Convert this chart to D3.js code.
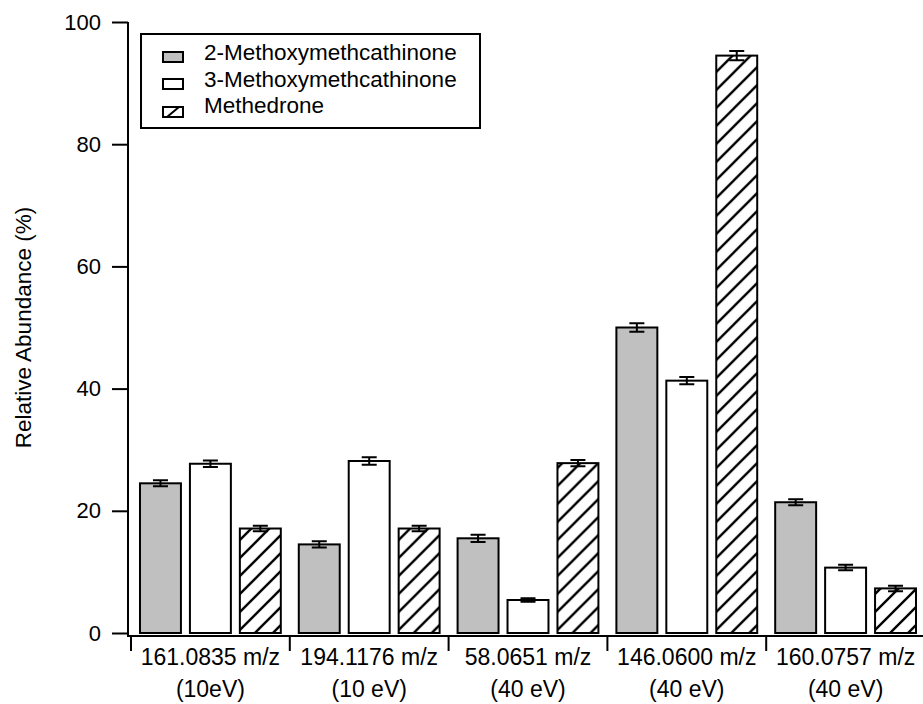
<!DOCTYPE html>
<html>
<head>
<meta charset="utf-8">
<script src="https://cdn.jsdelivr.net/npm/d3@7"></script>
<style>
  body { margin: 0; background: #fff; }
  svg { display: block; font-family: "Liberation Sans", Arial, sans-serif; }
</style>
</head>
<body>
<svg width="923" height="704"></svg>
<script>
// 数据
var groups = ["161.0835 m/z", "194.1176 m/z", "58.0651 m/z", "146.0600 m/z", "160.0757 m/z"];
var groupSub = ["(10eV)", "(10 eV)", "(40 eV)", "(40 eV)", "(40 eV)"];
var series = ["2-Methoxymethcathinone", "3-Methoxymethcathinone", "Methedrone"];
var mmc2 = [24.5, 14.5, 15.5, 50.0, 21.4];
var mmc2Err = [0.5, 0.5, 0.6, 0.7, 0.5];
var mmc3 = [27.7, 28.15, 5.4, 41.3, 10.7];
var mmc3Err = [0.55, 0.6, 0.27, 0.6, 0.45];
var meth = [17.1, 17.1, 27.8, 94.5, 7.3];
var methErr = [0.45, 0.45, 0.5, 0.77, 0.45];
var yTicks = [0, 20, 40, 60, 80, 100];

var values = [mmc2, mmc3, meth];
var errors = [mmc2Err, mmc3Err, methErr];

var svg = d3.select("svg");

// 斜线填充
var defs = svg.append("defs");
var pat = defs.append("pattern")
    .attr("id", "hatch")
    .attr("patternUnits", "userSpaceOnUse")
    .attr("width", 18)
    .attr("height", 18);
pat.append("rect").attr("width", 18).attr("height", 18).attr("fill", "#fff");
pat.append("path")
    .attr("d", "M-4.5,4.5 L4.5,-4.5 M0,18 L18,0 M13.5,22.5 L22.5,13.5")
    .attr("stroke", "#000")
    .attr("stroke-width", 2.4);

var fills = ["#c0c0c0", "#ffffff", "url(#hatch)"];

// 比例尺
var y = d3.scaleLinear().domain([0, 100]).range([633, 22]);
var x0 = d3.scaleBand().domain(groups).range([131, 925]).padding(0);
var x1 = d3.scaleBand().domain(series).range([0, x0.bandwidth()])
    .paddingInner(0.18).paddingOuter(0.18);

// 柱子
var rows = [];
groups.forEach(function(g, i) {
    series.forEach(function(s, j) {
        rows.push({ group: g, series: s, si: j, v: values[j][i], e: errors[j][i] });
    });
});

var bar = svg.append("g").selectAll("g")
    .data(rows)
    .enter().append("g")
    .attr("transform", function(d) { return "translate(" + (x0(d.group) + x1(d.series)) + ",0)"; });

bar.append("rect")
    .attr("x", 0)
    .attr("y", function(d) { return y(d.v); })
    .attr("width", x1.bandwidth())
    .attr("height", function(d) { return y(0) - y(d.v); })
    .attr("fill", function(d) { return fills[d.si]; })
    .attr("stroke", "#000")
    .attr("stroke-width", 2);

// 误差线
var cx = x1.bandwidth() / 2;
bar.append("path")
    .attr("d", function(d) {
        var t = y(d.v + d.e), b = y(d.v - d.e);
        return "M" + cx + "," + t + "V" + b +
            "M" + (cx - 7.5) + "," + t + "H" + (cx + 7.5) +
            "M" + (cx - 7.5) + "," + b + "H" + (cx + 7.5);
    })
    .attr("stroke", "#000")
    .attr("stroke-width", 2)
    .attr("fill", "none");

// Y轴
var yAxis = svg.append("g")
    .attr("transform", "translate(128,0)")
    .call(d3.axisLeft(y).tickValues(yTicks).tickSize(16).tickPadding(11));
yAxis.select(".domain").attr("d", "M0," + y(100) + "V636").attr("stroke-width", 2);
yAxis.selectAll(".tick line").attr("stroke-width", 2);
yAxis.selectAll(".tick text").attr("font-size", 22).attr("fill", "#000")
    .attr("font-family", "Liberation Sans, Arial, sans-serif");

svg.append("text")
    .attr("transform", "translate(31," + ((y(0) + y(100)) / 2) + ") rotate(-90)")
    .attr("text-anchor", "middle")
    .attr("font-size", 22.5)
    .text("Relative Abundance (%)");

// X轴
var bounds = groups.map(function(g) { return x0(g); });
var xg = svg.append("g");
xg.append("line")
    .attr("x1", 127).attr("x2", 923)
    .attr("y1", 636).attr("y2", 636)
    .attr("stroke", "#000").attr("stroke-width", 2);
xg.selectAll(".xt")
    .data(bounds)
    .enter().append("line")
    .attr("x1", function(d) { return d; }).attr("x2", function(d) { return d; })
    .attr("y1", 636).attr("y2", 651)
    .attr("stroke", "#000").attr("stroke-width", 2);

xg.selectAll(".lab1")
    .data(groups)
    .enter().append("text")
    .attr("x", function(d) { return x0(d) + x0.bandwidth() / 2; })
    .attr("y", 665)
    .attr("text-anchor", "middle")
    .attr("font-size", 23)
    .text(function(d) { return d; });

xg.selectAll(".lab2")
    .data(groupSub)
    .enter().append("text")
    .attr("x", function(d, i) { return x0(groups[i]) + x0.bandwidth() / 2; })
    .attr("y", 697)
    .attr("text-anchor", "middle")
    .attr("font-size", 23)
    .text(function(d) { return d; });

// 图例
var legend = svg.append("g");
legend.append("rect")
    .attr("x", 141).attr("y", 34)
    .attr("width", 339).attr("height", 94)
    .attr("fill", "#fff").attr("stroke", "#000").attr("stroke-width", 2);

var swY = [52, 79, 107];
var txtY = [60, 86.5, 113];
var item = legend.selectAll(".item")
    .data(series)
    .enter().append("g");
item.append("rect")
    .attr("x", 163)
    .attr("y", function(d, i) { return swY[i]; })
    .attr("width", 20).attr("height", 10)
    .attr("fill", function(d, i) { return i == 2 ? "#fff" : fills[i]; })
    .attr("stroke", "#000").attr("stroke-width", 2);
item.filter(function(d, i) { return i == 2; })
    .append("line")
    .attr("x1", 167).attr("y1", swY[2] + 10)
    .attr("x2", 179).attr("y2", swY[2])
    .attr("stroke", "#000").attr("stroke-width", 2);
item.append("text")
    .attr("x", 204)
    .attr("y", function(d, i) { return txtY[i]; })
    .attr("font-size", 22.5)
    .text(function(d) { return d; });
</script>
</body>
</html>
